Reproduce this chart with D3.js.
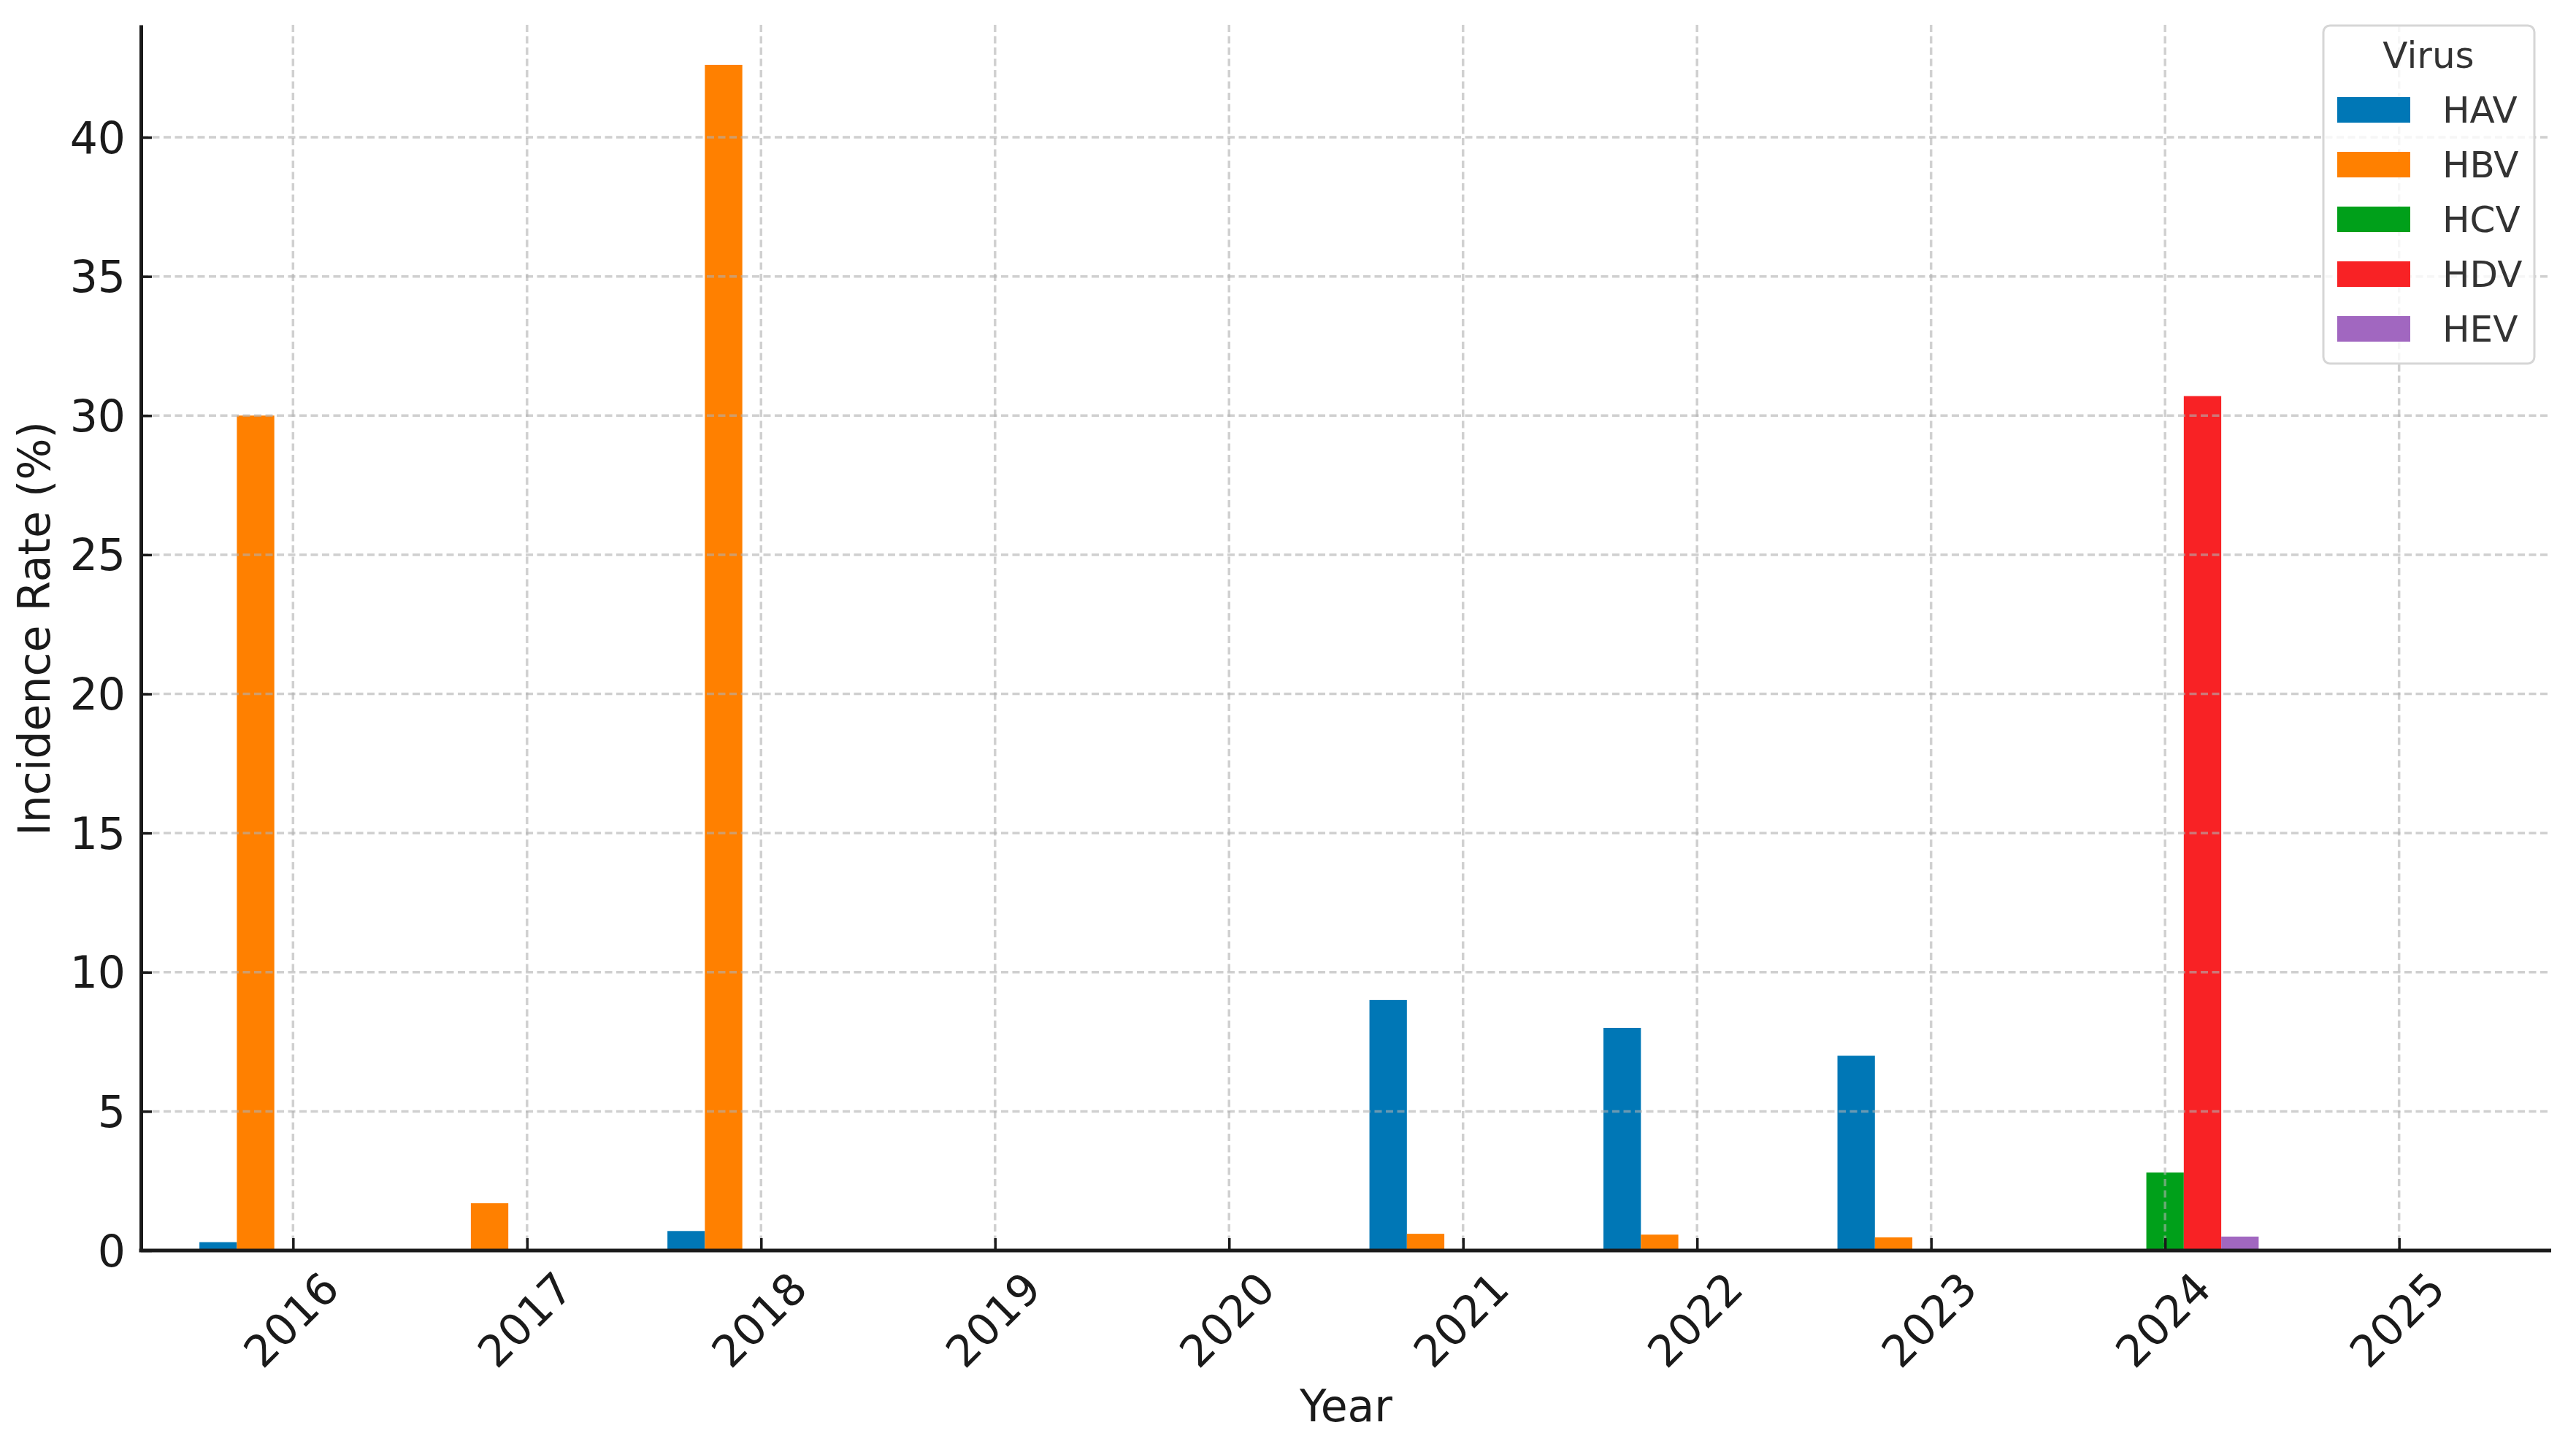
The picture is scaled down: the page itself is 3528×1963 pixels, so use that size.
<!DOCTYPE html>
<html>
<head>
<meta charset="utf-8">
<script src="https://cdn.jsdelivr.net/npm/d3@7"></script>
<style>
  html, body { margin: 0; padding: 0; background: #fff; }
  svg { display: block; font-family: "DejaVu Sans", sans-serif; }
</style>
</head>
<body>
<svg id="chart" width="3528" height="1963"></svg>
<script>
// ---- data ----
const years = ["2016","2017","2018","2019","2020","2021","2022","2023","2024","2025"];
const viruses = ["HAV","HBV","HCV","HDV","HEV"];
const HAV = [0.3, 0, 0.7, 0, 0, 9.0, 8.0, 7.0, 0, 0];
const HBV = [30.0, 1.7, 42.6, 0, 0, 0.6, 0.57, 0.47, 0, 0];
const HCV = [0, 0, 0, 0, 0, 0, 0, 0, 2.8, 0];
const HDV = [0, 0, 0, 0, 0, 0, 0, 0, 30.7, 0];
const HEV = [0, 0, 0, 0, 0, 0, 0, 0, 0.5, 0];
const colors = ["#0077b6", "#ff8000", "#00a01a", "#f82225", "#a167c0"];
const yTicks = [0, 5, 10, 15, 20, 25, 30, 35, 40];
const seriesValues = [HAV, HBV, HCV, HDV, HEV];

// ---- layout ----
const mLeft = 193, mRight = 3494, mTop = 34, mBottom = 1713;
const svg = d3.select("#chart");

const x = d3.scaleLinear().domain([-0.65, years.length - 1 + 0.65]).range([mLeft, mRight]);
const y = d3.scaleLinear().domain([0, 44.04]).range([mBottom, mTop]);
const groupWidth = 0.8, barW = groupWidth / viruses.length;

// bars
const barsG = svg.append("g");
viruses.forEach((v, j) => {
  barsG.append("g").selectAll("rect")
    .data(seriesValues[j].map((val, i) => ({i, val})))
    .join("rect")
    .attr("x", d => x(d.i - groupWidth / 2 + j * barW))
    .attr("width", x(barW) - x(0))
    .attr("y", d => y(d.val))
    .attr("height", d => y(0) - y(d.val))
    .attr("fill", colors[j]);
});

// grid (above bars, like matplotlib)
const gridG = svg.append("g")
  .attr("stroke", "#b0b0b0").attr("stroke-opacity", 0.6)
  .attr("stroke-width", 3.5).attr("stroke-dasharray", "10,5.5");
gridG.selectAll("line.h").data(yTicks.filter(t => t > 0)).join("line")
  .attr("x1", mLeft).attr("x2", mRight)
  .attr("y1", d => y(d)).attr("y2", d => y(d));
gridG.selectAll("line.v").data(years.map((_, i) => i)).join("line")
  .attr("x1", d => x(d)).attr("x2", d => x(d))
  .attr("y1", mTop).attr("y2", mBottom);

// y axis
const yAxis = d3.axisLeft(y).tickValues(yTicks).tickFormat(d3.format("d"))
  .tickSizeInner(-15).tickSizeOuter(0).tickPadding(21);
const yG = svg.append("g").attr("transform", `translate(${mLeft},0)`).call(yAxis);
yG.select(".domain").attr("stroke", "#1a1a1a").attr("stroke-width", 5);
yG.selectAll(".tick line").attr("stroke", "#1a1a1a").attr("stroke-width", 3.5);
yG.selectAll(".tick text").attr("font-size", 60).attr("fill", "#1a1a1a")
  .attr("font-family", "DejaVu Sans").attr("dy", null)
  .attr("dominant-baseline", "central");

// x axis
const xAxis = d3.axisBottom(x).tickValues(years.map((_, i) => i))
  .tickFormat(i => years[i]).tickSizeInner(-17).tickSizeOuter(0).tickPadding(0);
const xG = svg.append("g").attr("transform", `translate(0,${mBottom})`).call(xAxis);
xG.select(".domain").attr("stroke", "#1a1a1a").attr("stroke-width", 5)
  .attr("d", `M${mLeft - 2.5},0H${mRight}`);
xG.selectAll(".tick line").attr("stroke", "#1a1a1a").attr("stroke-width", 3.5);
xG.selectAll(".tick text").attr("font-size", 60).attr("fill", "#1a1a1a")
  .attr("font-family", "DejaVu Sans")
  .attr("y", null).attr("dy", null)
  .attr("text-anchor", "middle").attr("dominant-baseline", "central")
  .attr("transform", "translate(-3,95) rotate(-45)");

// axis titles
svg.append("text").attr("x", (mLeft + mRight) / 2).attr("y", 1947)
  .attr("text-anchor", "middle").attr("font-size", 60).attr("fill", "#1a1a1a")
  .text("Year");
svg.append("text").attr("transform", "translate(68,861) rotate(-90)")
  .attr("text-anchor", "middle").attr("font-size", 60).attr("fill", "#1a1a1a")
  .text("Incidence Rate (%)");

// legend
const lg = svg.append("g");
lg.append("rect").attr("x", 3182).attr("y", 35).attr("width", 289).attr("height", 463)
  .attr("rx", 9).attr("fill", "#fff").attr("fill-opacity", 0.8)
  .attr("stroke", "#d6d6d6").attr("stroke-width", 3);
lg.append("text").attr("x", 3326).attr("y", 93).attr("text-anchor", "middle")
  .attr("font-size", 50).attr("fill", "#333").text("Virus");
viruses.forEach((v, j) => {
  const yy = 133 + j * 75;
  lg.append("rect").attr("x", 3201).attr("y", yy).attr("width", 100).attr("height", 35)
    .attr("fill", colors[j]);
  lg.append("text").attr("x", 3345).attr("y", yy + 35).attr("font-size", 50)
    .attr("fill", "#333").text(v);
});
</script>
</body>
</html>
